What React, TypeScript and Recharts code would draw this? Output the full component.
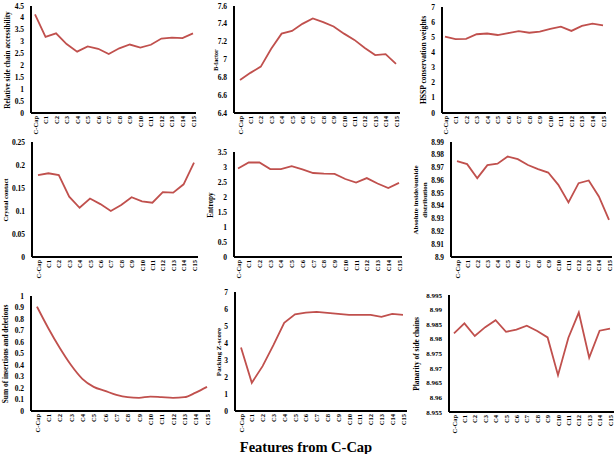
import { LineChart, Line, XAxis, YAxis } from 'recharts';

const categories = ['C-Cap', 'C1', 'C2', 'C3', 'C4', 'C5', 'C6', 'C7', 'C8', 'C9', 'C10', 'C11', 'C12', 'C13', 'C14', 'C15'];

const accessibility = [4.15, 3.2, 3.35, 2.9, 2.58, 2.8, 2.7, 2.48, 2.72, 2.88, 2.75, 2.87, 3.13, 3.17, 3.15, 3.35];
const bFactor = [6.77, 6.85, 6.92, 7.12, 7.29, 7.32, 7.4, 7.46, 7.42, 7.37, 7.29, 7.22, 7.13, 7.05, 7.06, 6.95];
const hsspWeights = [5.05, 4.88, 4.9, 5.2, 5.25, 5.15, 5.28, 5.4, 5.3, 5.38, 5.55, 5.7, 5.42, 5.75, 5.9, 5.78];
const crystalContact = [0.178, 0.182, 0.178, 0.131, 0.107, 0.127, 0.115, 0.1, 0.113, 0.13, 0.121, 0.118, 0.141, 0.14, 0.158, 0.205];
const entropy = [2.95, 3.15, 3.15, 2.93, 2.93, 3.03, 2.92, 2.8, 2.78, 2.77, 2.6, 2.48, 2.63, 2.45, 2.3, 2.47];
const insideOutside = [8.975, 8.9727, 8.9617, 8.9719, 8.973, 8.9786, 8.9766, 8.972, 8.9688, 8.9661, 8.9565, 8.9427, 8.9578, 8.9599, 8.9474, 8.929];
const indels = [0.907, 0.72, 0.55, 0.4, 0.28, 0.21, 0.175, 0.14, 0.12, 0.115, 0.125, 0.12, 0.115, 0.12, 0.16, 0.21];
const packingZ = [3.74, 1.66, 2.64, 3.87, 5.19, 5.69, 5.79, 5.83, 5.77, 5.71, 5.66, 5.66, 5.66, 5.54, 5.71, 5.66];
const planarity = [8.9819, 8.9853, 8.981, 8.984, 8.9864, 8.9824, 8.9832, 8.9845, 8.9827, 8.9805, 8.9676, 8.9804, 8.989, 8.9736, 8.9828, 8.9835];

const ticksAccess = [0, 0.5, 1, 1.5, 2, 2.5, 3, 3.5, 4, 4.5];
const ticksBFactor = [6.4, 6.6, 6.8, 7, 7.2, 7.4, 7.6];
const ticksSeven = [0, 1, 2, 3, 4, 5, 6, 7];
const ticksCrystal = [0, 0.05, 0.1, 0.15, 0.2, 0.25];
const ticksEntropy = [0, 0.5, 1, 1.5, 2, 2.5, 3, 3.5];
const ticksInside = [8.9, 8.91, 8.92, 8.93, 8.94, 8.95, 8.96, 8.97, 8.98, 8.99];
const ticksIndels = [0, 0.1, 0.2, 0.3, 0.4, 0.5, 0.6, 0.7, 0.8, 0.9, 1];
const ticksPlanarity = [8.955, 8.96, 8.965, 8.97, 8.975, 8.98, 8.985, 8.99, 8.995];

const LINE = '#c0504d';
const FONT = '"Liberation Serif", "Times New Roman", serif';
const Y_W = 40;
const X_H = 24;
const TOP_PAD = 6;

interface PanelSpec {
  values: number[];
  ticks: number[];
  label: string[];
  labelSize: number;
  labelGap: number;
  tickSize: number;
  axisX: number;
  axisEnd: number;
  plotTop: number;
  plotBottom: number;
  firstX: number;
  lastX: number;
  curve?: 'linear' | 'monotone';
}

const panels: PanelSpec[] = [
  { values: accessibility, ticks: ticksAccess, label: ['Relative side chain accessibility'], labelSize: 7.3, labelGap: 24, tickSize: 7.5, axisX: 31, axisEnd: 196, plotTop: 6, plotBottom: 113, firstX: 35, lastX: 193 },
  { values: bFactor, ticks: ticksBFactor, label: ['B-factor'], labelSize: 6, labelGap: 18, tickSize: 7.5, axisX: 234, axisEnd: 400, plotTop: 6, plotBottom: 113, firstX: 240, lastX: 396 },
  { values: hsspWeights, ticks: ticksSeven, label: ['HSSP conservation weights'], labelSize: 7.6, labelGap: 19, tickSize: 7.5, axisX: 442, axisEnd: 606, plotTop: 7, plotBottom: 113, firstX: 445, lastX: 603 },
  { values: crystalContact, ticks: ticksCrystal, label: ['Crystal contact'], labelSize: 6.6, labelGap: 27, tickSize: 7.5, axisX: 32, axisEnd: 198, plotTop: 142, plotBottom: 257, firstX: 38, lastX: 194 },
  { values: entropy, ticks: ticksEntropy, label: ['Entropy'], labelSize: 7.2, labelGap: 23, tickSize: 7.5, axisX: 234, axisEnd: 402, plotTop: 152, plotBottom: 257, firstX: 238, lastX: 399 },
  { values: insideOutside, ticks: ticksInside, label: ['Absolute inside/outside', 'distribution'], labelSize: 7, labelGap: 30, tickSize: 7.3, axisX: 451, axisEnd: 612, plotTop: 142, plotBottom: 257, firstX: 457, lastX: 609 },
  { values: indels, ticks: ticksIndels, label: ['Sum of insertions and deletions'], labelSize: 7.4, labelGap: 26, tickSize: 7.5, axisX: 31, axisEnd: 210, plotTop: 296, plotBottom: 411, firstX: 37, lastX: 207, curve: 'monotone' },
  { values: packingZ, ticks: ticksSeven, label: ['Packing Z-score'], labelSize: 7, labelGap: 16, tickSize: 7.5, axisX: 235, axisEnd: 407, plotTop: 292, plotBottom: 411, firstX: 241, lastX: 403 },
  { values: planarity, ticks: ticksPlanarity, label: ['Planarity of side chains'], labelSize: 7.4, labelGap: 33, tickSize: 7, axisX: 449, axisEnd: 614, plotTop: 295, plotBottom: 412, firstX: 454, lastX: 610 },
];

function XTick({ x, y, payload }: any) {
  return (
    <text
      x={x}
      y={y}
      transform={`rotate(-90, ${x}, ${y})`}
      textAnchor="end"
      dominantBaseline="central"
      fontSize={6.5}
      fontWeight="bold"
      fontFamily={FONT}
      fill="#000"
    >
      {payload.value}
    </text>
  );
}

function YTick({ x, y, payload, size }: any) {
  return (
    <text x={x} y={y} dy={2.6} textAnchor="end" fontSize={size} fontWeight="bold" fontFamily={FONT} fill="#000">
      {String(payload.value)}
    </text>
  );
}

function Panel({ p }: { p: PanelSpec }) {
  const width = p.axisEnd - p.axisX + Y_W + 4;
  const height = p.plotBottom - p.plotTop + TOP_PAD + X_H;
  const data = categories.map((c, i) => ({ name: c, v: p.values[i] }));
  const lo = p.ticks[0];
  const hi = p.ticks[p.ticks.length - 1];
  return (
    <>
      <div style={{ position: 'absolute', left: p.axisX - Y_W, top: p.plotTop - TOP_PAD }}>
        <LineChart width={width} height={height} data={data} margin={{ top: TOP_PAD, right: 4, left: 0, bottom: 0 }}>
          <XAxis
            dataKey="name"
            interval={0}
            height={X_H}
            tick={<XTick />}
            tickLine={false}
            tickSize={0}
            tickMargin={3}
            axisLine={{ stroke: '#000', strokeWidth: 2 }}
            padding={{ left: p.firstX - p.axisX, right: p.axisEnd - p.lastX }}
          />
          <YAxis
            width={Y_W}
            domain={[lo, hi]}
            ticks={p.ticks}
            interval={0}
            allowDataOverflow
            tick={<YTick size={p.tickSize} />}
            tickLine={false}
            tickSize={0}
            tickMargin={7}
            axisLine={{ stroke: '#000', strokeWidth: 2 }}
          />
          <Line type={p.curve ?? 'linear'} dataKey="v" stroke={LINE} strokeWidth={1.8} dot={false} isAnimationActive={false} />
        </LineChart>
      </div>
      <div
        style={{
          position: 'absolute',
          left: p.axisX - p.labelGap,
          top: (p.plotTop + p.plotBottom) / 2,
          transform: 'translate(-50%, -50%) rotate(-90deg)',
          whiteSpace: 'nowrap',
          textAlign: 'center',
          fontFamily: FONT,
          fontWeight: 'bold',
          fontSize: p.labelSize,
          lineHeight: '9px',
          color: '#000',
        }}
      >
        {p.label.map((t) => (
          <div key={t}>{t}</div>
        ))}
      </div>
    </>
  );
}

export default function App() {
  return (
    <div style={{ position: 'absolute', left: 0, top: 0, width: 616, height: 454, background: '#fff', overflow: 'hidden' }}>
      {panels.map((p, i) => (
        <Panel key={i} p={p} />
      ))}
      <div
        style={{
          position: 'absolute',
          left: 306,
          top: 447,
          transform: 'translate(-50%, -50%)',
          whiteSpace: 'nowrap',
          fontFamily: FONT,
          fontWeight: 'bold',
          fontSize: 14.5,
          color: '#000',
        }}
      >
        Features from C-Cap
      </div>
    </div>
  );
}
